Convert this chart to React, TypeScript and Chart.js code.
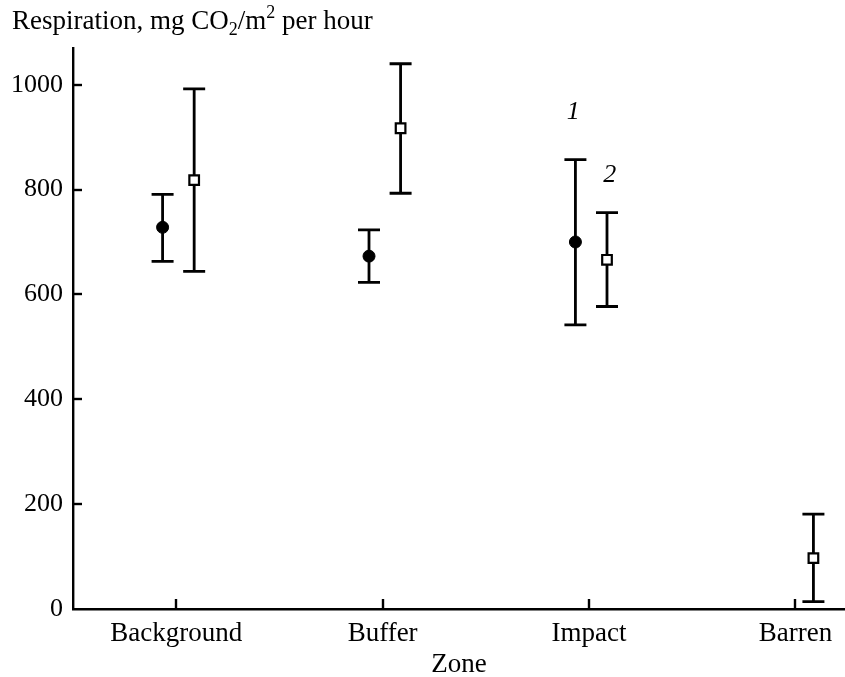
import React, { useEffect, useRef } from "react";
import { Chart, registerables } from "chart.js";

Chart.register(...registerables);

const zones = ["Background", "Buffer", "Impact", "Barren"];
const yTickValues = [0, 200, 400, 600, 800, 1000];

// series 1 (filled circles)
const s1Mean: (number | null)[] = [728, 673, 700, null];
const s1Low: (number | null)[] = [663, 623, 542, null];
const s1High: (number | null)[] = [791, 723, 857, null];

// series 2 (open squares)
const s2Mean: (number | null)[] = [818, 917, 666, 97];
const s2Low: (number | null)[] = [644, 793, 577, 14];
const s2High: (number | null)[] = [992, 1040, 756, 181];

// series labels "1" and "2" (placed near Impact)
const seriesLabels = ["1", "2"];
const seriesLabelPos = [
  { x: 2 - 0.077, y: 947 },
  { x: 2 + 0.1, y: 827 },
];

const S1_OFFSET = -0.066;
const S2_OFFSET = 0.087;

const FONT = "'Liberation Serif', 'Times New Roman', serif";

const customPlugin = {
  id: "custom",
  beforeDatasetsDraw(chart: any) {
    const { ctx, scales } = chart;
    const x = scales.x;
    const y = scales.y;
    ctx.save();
    ctx.strokeStyle = "#000";
    ctx.lineWidth = 2.8;
    const draw = (offset: number, lo: (number | null)[], hi: (number | null)[]) => {
      lo.forEach((l, i) => {
        const h = hi[i];
        if (l == null || h == null) return;
        const px = x.getPixelForValue(i + offset);
        const p1 = y.getPixelForValue(l);
        const p2 = y.getPixelForValue(h);
        ctx.beginPath();
        ctx.moveTo(px, p1);
        ctx.lineTo(px, p2);
        ctx.moveTo(px - 11, p1);
        ctx.lineTo(px + 11, p1);
        ctx.moveTo(px - 11, p2);
        ctx.lineTo(px + 11, p2);
        ctx.stroke();
      });
    };
    draw(S1_OFFSET, s1Low, s1High);
    draw(S2_OFFSET, s2Low, s2High);
    ctx.restore();
  },
  afterDraw(chart: any) {
    const { ctx, scales, chartArea } = chart;
    const x = scales.x;
    const y = scales.y;
    ctx.save();
    ctx.strokeStyle = "#000";
    ctx.lineWidth = 2.4;
    // inward ticks
    yTickValues.forEach((v) => {
      if (v === 0) return;
      const py = Math.round(y.getPixelForValue(v));
      ctx.beginPath();
      ctx.moveTo(chartArea.left, py);
      ctx.lineTo(chartArea.left + 9, py);
      ctx.stroke();
    });
    zones.forEach((_, i) => {
      const px = Math.round(x.getPixelForValue(i));
      ctx.beginPath();
      ctx.moveTo(px, chartArea.bottom);
      ctx.lineTo(px, chartArea.bottom - 10);
      ctx.stroke();
    });
    // series labels
    ctx.fillStyle = "#000";
    ctx.font = `italic 26px ${FONT}`;
    ctx.textAlign = "center";
    ctx.textBaseline = "middle";
    seriesLabels.forEach((t, i) => {
      ctx.fillText(t, x.getPixelForValue(seriesLabelPos[i].x), y.getPixelForValue(seriesLabelPos[i].y));
    });
    // y axis title with sub/superscripts
    ctx.textAlign = "left";
    ctx.textBaseline = "alphabetic";
    let cx = 12;
    const base = 29;
    const parts: [string, string][] = [
      ["Respiration, mg CO", "n"],
      ["2", "sub"],
      ["/m", "n"],
      ["2", "sup"],
      [" per hour", "n"],
    ];
    parts.forEach(([t, k]) => {
      if (k === "n") {
        ctx.font = `27px ${FONT}`;
        ctx.fillText(t, cx, base);
      } else {
        ctx.font = `18px ${FONT}`;
        ctx.fillText(t, cx, k === "sub" ? base + 6 : base - 11);
      }
      cx += ctx.measureText(t).width;
    });
    ctx.restore();
  },
};

export default function App() {
  const ref = useRef<HTMLCanvasElement>(null);
  useEffect(() => {
    if (!ref.current) return;
    const chart = new Chart(ref.current, {
      type: "scatter",
      data: {
        datasets: [
          {
            label: "1",
            data: s1Mean.map((v, i) => ({ x: i + S1_OFFSET, y: v as any })),
            pointStyle: "circle",
            radius: 6,
            borderWidth: 1,
            backgroundColor: "#000",
            borderColor: "#000",
            showLine: false,
          },
          {
            label: "2",
            data: s2Mean.map((v, i) => ({ x: i + S2_OFFSET, y: v as any })),
            pointStyle: "rect",
            radius: 6.8,
            borderWidth: 2.2,
            backgroundColor: "#fff",
            borderColor: "#000",
            showLine: false,
          },
        ],
      },
      options: {
        responsive: false,
        animation: false,
        layout: { autoPadding: false, padding: { top: 48, left: 0, right: 0, bottom: 0 } },
        plugins: {
          legend: { display: false },
          tooltip: { enabled: false },
        },
        scales: {
          x: {
            type: "linear",
            min: -0.5,
            max: 3.24,
            grid: { display: false, drawTicks: false },
            border: { display: true, color: "#000", width: 2.4 },
            afterBuildTicks: (s: any) => {
              s.ticks = zones.map((_, i) => ({ value: i }));
            },
            afterFit: (s: any) => {
              s.height = 68;
              s.paddingLeft = 0;
              s.paddingRight = 0;
            },
            ticks: {
              color: "#000",
              font: { family: FONT, size: 27 },
              padding: 9,
              maxRotation: 0,
              autoSkip: false,
              callback: (v: any) => zones[v] ?? "",
            },
            title: {
              display: true,
              text: "Zone",
              color: "#000",
              font: { family: FONT, size: 27 },
              padding: { top: 0, bottom: -4 },
            },
          },
          y: {
            min: 0,
            max: 1070,
            grid: { display: false, drawTicks: false },
            border: { display: true, color: "#000", width: 2.4 },
            afterBuildTicks: (s: any) => {
              s.ticks = yTickValues.map((v) => ({ value: v }));
            },
            afterFit: (s: any) => {
              s.width = 73;
              s.paddingTop = 0;
              s.paddingBottom = 0;
            },
            ticks: {
              color: "#000",
              font: { family: FONT, size: 26 },
              padding: 10,
              callback: (v: any) => String(v),
            },
          },
        },
      },
      plugins: [customPlugin],
    });
    return () => chart.destroy();
  }, []);
  return (
    <div style={{ position: "fixed", left: 0, top: 0, width: 845, height: 677, background: "#fff" }}>
      <canvas ref={ref} width={845} height={677} />
    </div>
  );
}
